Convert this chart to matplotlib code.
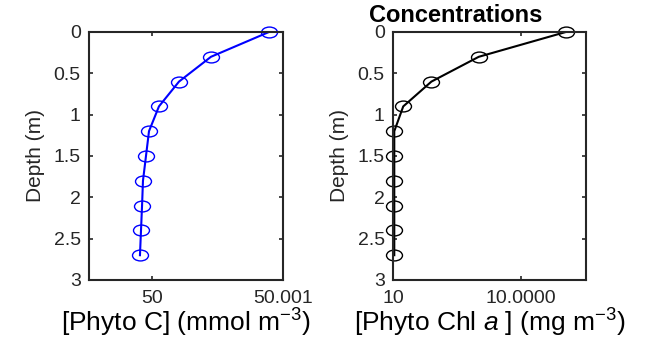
import numpy as np
import matplotlib
matplotlib.use('Agg')
import matplotlib.pyplot as plt
from matplotlib.path import Path
from matplotlib.transforms import Affine2D

plt.rcParams['font.family'] = ['Liberation Sans', 'DejaVu Sans']
plt.rcParams['mathtext.fontset'] = 'custom'
plt.rcParams['mathtext.rm'] = 'Liberation Sans'
plt.rcParams['mathtext.it'] = 'Liberation Sans:italic'

# Data
depth = [0.0, 0.3, 0.6, 0.9, 1.2, 1.5, 1.8, 2.1, 2.4, 2.7]
phyto_c = [50.000893, 50.000450, 50.000206, 50.000053, 49.999977,
           49.999954, 49.999931, 49.999924, 49.999916, 49.999908]
phyto_chl = [10.0000135, 10.0000067, 10.0000030, 10.0000008, 10.0000001,
             10.0000001, 10.0000001, 10.0000001, 10.0000001, 10.0000001]
depth_ticks = [0, 0.5, 1, 1.5, 2, 2.5, 3]
depth_labels = ['0', '0.5', '1', '1.5', '2', '2.5', '3']
c_ticks = [50.0, 50.001]
c_labels = ['50', '50.001']
chl_ticks = [10.0, 10.00001]
chl_labels = ['10', '10.0000']

# slightly flattened circle, the reference is stretched sideways
ellipse = Path.unit_circle().transformed(Affine2D().scale(1.0, 0.68))

axcol = '#262626'
W, H = 646, 341
fig = plt.figure(figsize=(W / 100, H / 100), dpi=100)
ax1 = fig.add_axes([89 / W, 1 - 280 / H, 194 / W, 248 / H])
ax2 = fig.add_axes([393 / W, 1 - 280 / H, 193 / W, 248 / H])


def style(ax, xticks, xlabels, xlim, xlabel):
    ax.set_ylim(3, 0)
    ax.set_xlim(*xlim)
    ax.set_yticks(depth_ticks)
    ax.set_yticklabels(depth_labels)
    ax.set_xticks(xticks)
    ax.set_xticklabels(xlabels)
    ax.tick_params(direction='in', length=3, width=1.2, colors=axcol,
                   labelsize=14, top=True, right=True)
    ax.tick_params(axis='y', pad=6)
    ax.tick_params(axis='x', pad=7)
    for s in ax.spines.values():
        s.set_color(axcol)
        s.set_linewidth(1.5)
    ax.set_ylabel('Depth (m)', fontsize=15, color=axcol)
    ax.yaxis.set_label_coords(-44 / 194, 0.5)
    ax.set_xlabel(xlabel, fontsize=19, color='black', labelpad=0)


ax1.plot(phyto_c, depth, '-', color='#0000ff', lw=1.5)
ax1.plot(phyto_c, depth, linestyle='none', marker=ellipse, markersize=11.5,
         markerfacecolor='none', markeredgecolor='#0000ff', markeredgewidth=1.0,
         clip_on=False)
style(ax1, c_ticks, c_labels, (49.999519, 50.001),
      '[Phyto C] (mmol m$^{-3}$)')

ax2.plot(phyto_chl, depth, '-', color='black', lw=1.5)
ax2.plot(phyto_chl, depth, linestyle='none', marker=ellipse, markersize=11.5,
         markerfacecolor='none', markeredgecolor='black', markeredgewidth=1.0,
         clip_on=False)
style(ax2, chl_ticks, chl_labels, (10.0, 10.0 + 193 / 128 * 1e-5),
      '[Phyto Chl $\\it{a}$ ] (mg m$^{-3}$)')

ax2.text(0.326, 1.04, 'Concentrations', transform=ax2.transAxes,
         ha='center', va='baseline', fontsize=17, fontweight='bold')

fig.savefig('out.png', dpi=100, facecolor='white')
